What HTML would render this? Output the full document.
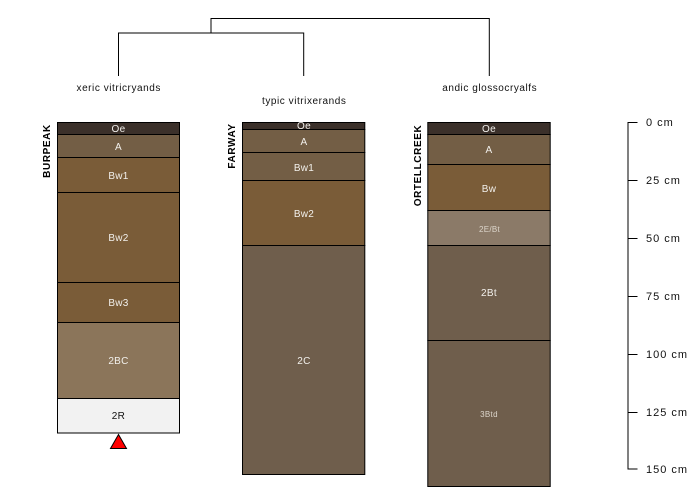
<!DOCTYPE html>
<html><head><meta charset="utf-8"><style>
html,body{margin:0;padding:0;background:#fff}
svg{display:block}
text{font-family:"Liberation Sans",sans-serif;font-size:10px;text-anchor:middle}
.w{fill:#f2f0ec;letter-spacing:.3px}
.l{fill:#111}
.t{fill:#111;letter-spacing:.55px}
.b{font-weight:bold;fill:#000;letter-spacing:.6px}
.a{text-anchor:start;font-size:11px;letter-spacing:1px;fill:#111}
</style></head><body>
<svg width="700" height="500" viewBox="0 0 700 500" xmlns="http://www.w3.org/2000/svg">
<g fill="none" stroke="#000" stroke-width="1">
<path d="M118.500 76V33H303.700V76"/>
<path d="M211 33V18.500H489.300V76"/>
</g>
<text class="t" x="118.700" y="91">xeric vitricryands</text>
<text class="t" x="304.200" y="104">typic vitrixerands</text>
<text class="t" x="489.700" y="91">andic glossocryalfs</text>

<g stroke="#000" stroke-width="1">
<rect x="57.500" y="122.500" width="122" height="12" fill="#3b302a"/>
<rect x="57.500" y="134.500" width="122" height="23" fill="#735e45"/>
<rect x="57.500" y="157.500" width="122" height="35" fill="#7a5c38"/>
<rect x="57.500" y="192.500" width="122" height="90" fill="#7a5c38"/>
<rect x="57.500" y="282.500" width="122" height="40" fill="#7a5c38"/>
<rect x="57.500" y="322.500" width="122" height="76" fill="#8b755a"/>
<rect x="57.500" y="398.500" width="122" height="34.500" fill="#f2f2f2"/>

<rect x="242.500" y="122.500" width="122.300" height="7" fill="#3b302a"/>
<rect x="242.500" y="129.500" width="122.300" height="23" fill="#735e45"/>
<rect x="242.500" y="152.500" width="122.300" height="28" fill="#735e45"/>
<rect x="242.500" y="180.500" width="122.300" height="65" fill="#7a5c38"/>
<rect x="242.500" y="245.500" width="122.300" height="229" fill="#6f5e4c"/>

<rect x="427.800" y="122.500" width="122.400" height="12" fill="#3b302a"/>
<rect x="427.800" y="134.500" width="122.400" height="30" fill="#735e45"/>
<rect x="427.800" y="164.500" width="122.400" height="46" fill="#7a5c38"/>
<rect x="427.800" y="210.500" width="122.400" height="35" fill="#8b7a68"/>
<rect x="427.800" y="245.500" width="122.400" height="95" fill="#6f5e4c"/>
<rect x="427.800" y="340.500" width="122.400" height="146" fill="#6f5e4c"/>
</g>

<text class="w" x="118.500" y="132">Oe</text>
<text class="w" x="118.500" y="150">A</text>
<text class="w" x="118.500" y="179">Bw1</text>
<text class="w" x="118.500" y="241">Bw2</text>
<text class="w" x="118.500" y="306">Bw3</text>
<text class="w" x="118.500" y="364">2BC</text>
<text class="l" x="118.500" y="419" style="letter-spacing:.3px">2R</text>

<text class="w" x="304" y="129">Oe</text>
<text class="w" x="304" y="145">A</text>
<text class="w" x="304" y="171">Bw1</text>
<text class="w" x="304" y="217">Bw2</text>
<text class="w" x="304" y="364">2C</text>

<text class="w" x="489" y="132">Oe</text>
<text class="w" x="489" y="153">A</text>
<text class="w" x="489" y="192">Bw</text>
<text class="w" x="489.500" y="232" style="font-size:8px;fill:#ddd6cc">2E/Bt</text>
<text class="w" x="489" y="296">2Bt</text>
<text class="w" x="489" y="417" style="font-size:8px;fill:#ddd6cc">3Btd</text>

<text class="b" transform="translate(50 151) rotate(-90)">BURPEAK</text>
<text class="b" transform="translate(235 146) rotate(-90)">FARWAY</text>
<text class="b" transform="translate(421 165.500) rotate(-90)">ORTELLCREEK</text>

<polygon points="118.500,434.500 126.500,448.500 110.500,448.500" fill="#f00" stroke="#000" stroke-width="1"/>

<g fill="none" stroke="#000" stroke-width="1">
<path d="M637.500 122.500H628V469H637.500"/>
<path d="M628 180.500H637.500M628 238.500H637.500M628 296.500H637.500M628 354.500H637.500M628 412.500H637.500"/>
</g>
<text class="a" x="646" y="126">0 cm</text>
<text class="a" x="646" y="184">25 cm</text>
<text class="a" x="646" y="242">50 cm</text>
<text class="a" x="646" y="300">75 cm</text>
<text class="a" x="646" y="358">100 cm</text>
<text class="a" x="646" y="416">125 cm</text>
<text class="a" x="646" y="473">150 cm</text>
</svg>
</body></html>
